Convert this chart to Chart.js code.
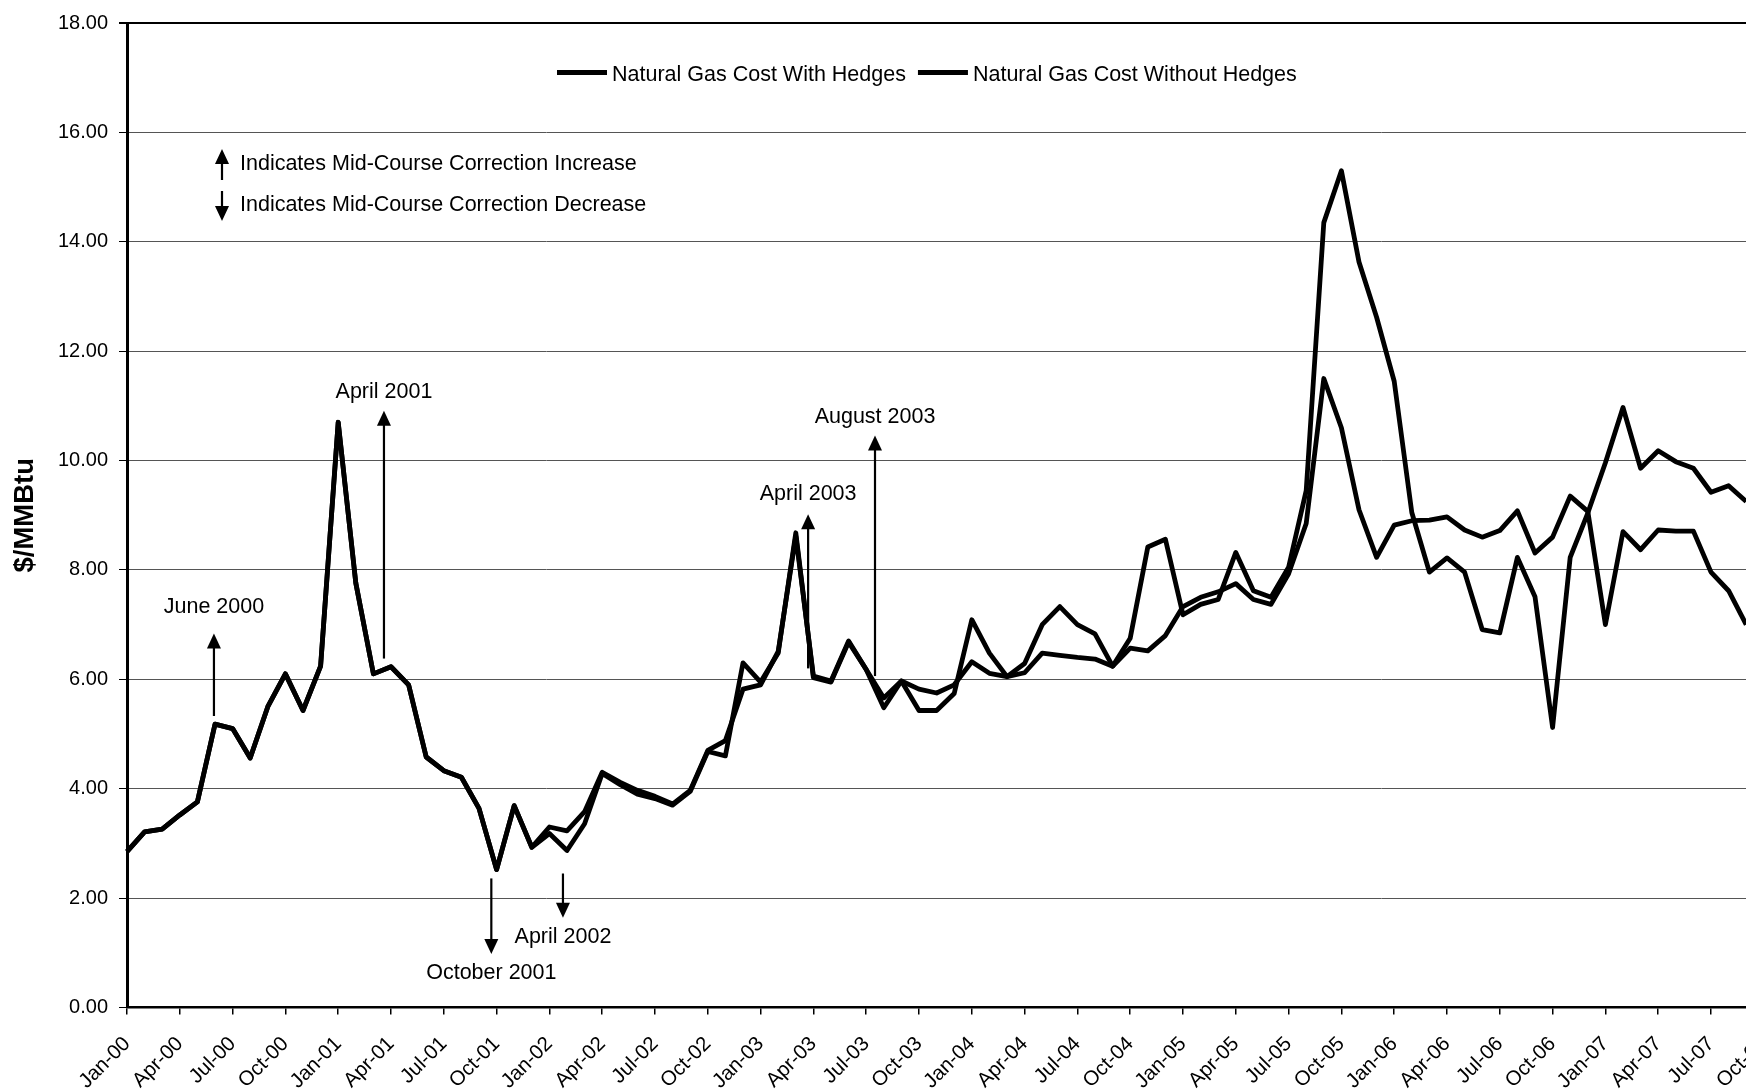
<!DOCTYPE html>
<html><head><meta charset="utf-8">
<script src="https://cdn.jsdelivr.net/npm/chart.js@4.4.1/dist/chart.umd.min.js"></script>
<style>html,body{margin:0;padding:0;background:#fff;overflow:hidden;width:1746px;height:1091px}canvas{display:block}</style>
</head><body>
<canvas id="c" width="1844" height="1091"></canvas>
<script>
// ---- categories ----
const monthAbbr = ['Jan','Feb','Mar','Apr','May','Jun','Jul','Aug','Sep','Oct','Nov','Dec'];
const yearCodes = ['00','01','02','03','04','05','06','07'];
const months = [];
yearCodes.forEach(y => monthAbbr.forEach(m => months.push(m + '-' + y)));

// ---- series ($/MMBtu), Jan-00 .. Dec-07 (last months beyond the visible edge left empty) ----
const seriesNames = ['Natural Gas Cost With Hedges', 'Natural Gas Cost Without Hedges'];
const costWithHedges = [
  2.85, 3.21, 3.26, 3.52, 3.76, 5.18, 5.10, 4.56, 5.50, 6.10, 5.43, 6.24,
  10.70, 7.76, 6.10, 6.23, 5.90, 4.58, 4.33, 4.21, 3.64, 2.52, 3.69, 2.93,
  3.30, 3.23, 3.58, 4.30, 4.12, 3.97, 3.86, 3.72, 3.97, 4.70, 4.88, 5.82,
  5.90, 6.51, 8.62, 6.06, 5.97, 6.70, 6.18, 5.66, 5.97, 5.82, 5.75, 5.90,
  6.32, 6.11, 6.05, 6.12, 6.48, 6.44, 6.40, 6.37, 6.24, 6.57, 6.52, 6.80,
  7.33, 7.50, 7.60, 7.75, 7.46, 7.37, 7.93, 8.85, 11.50, 10.60, 9.10, 8.23,
  8.82, 8.90, 8.91, 8.97, 8.73, 8.60, 8.72, 9.08, 8.31, 8.60, 9.35, 9.07,
  7.00, 8.70, 8.37, 8.73, 8.71, 8.71, 7.96, 7.62, 7.00, null, null, null
];
const costWithoutHedges = [
  2.85, 3.21, 3.26, 3.52, 3.76, 5.18, 5.10, 4.56, 5.50, 6.10, 5.43, 6.24,
  10.70, 7.76, 6.10, 6.23, 5.90, 4.58, 4.33, 4.21, 3.64, 2.52, 3.69, 2.93,
  3.18, 2.87, 3.36, 4.28, 4.08, 3.90, 3.82, 3.70, 3.95, 4.68, 4.60, 6.30,
  5.95, 6.48, 8.68, 6.03, 5.95, 6.68, 6.18, 5.48, 5.97, 5.43, 5.43, 5.74,
  7.09, 6.48, 6.05, 6.29, 7.00, 7.33, 7.00, 6.83, 6.24, 6.75, 8.42, 8.56,
  7.18, 7.37, 7.46, 8.32, 7.62, 7.50, 8.05, 9.45, 14.35, 15.30, 13.63, 12.62,
  11.45, 9.05, 7.96, 8.22, 7.96, 6.91, 6.85, 8.23, 7.51, 5.12, 8.23, 9.04,
  9.96, 10.97, 9.86, 10.18, 9.98, 9.86, 9.42, 9.54, 9.25, null, null, null
];

// ---- mid-course correction markers (month index position, values in $/MMBtu) ----
const markerLabels   = ['June 2000', 'April 2001', 'October 2001', 'April 2002', 'April 2003', 'August 2003'];
const markerMonthPos = [4.94, 14.6, 20.7, 24.77, 38.7, 42.5];
const markerTail     = [5.33, 6.38, 2.36, 2.45, 6.2, 6.06];
const markerTip      = [6.84, 10.91, 0.98, 1.64, 9.02, 10.46];
const markerLabelAt  = [7.32, 11.25, 0.63, 1.28, 9.38, 10.79];
const keyTexts = ['Indicates Mid-Course Correction Increase', 'Indicates Mid-Course Correction Decrease'];

const FONT_FAMILY = '"Liberation Sans", Arial, Helvetica, sans-serif';
const TEXT_FONT = '21.5px ' + FONT_FAMILY;
const LINE_W = 4.8;

function drawArrow(ctx, x, yTail, yTip, hl, hw, lw) {
  const dir = Math.sign(yTip - yTail);
  ctx.lineWidth = lw;
  ctx.beginPath();
  ctx.moveTo(x, yTail);
  ctx.lineTo(x, yTip - dir * hl * 0.8);
  ctx.stroke();
  ctx.beginPath();
  ctx.moveTo(x, yTip);
  ctx.lineTo(x - hw, yTip - dir * hl);
  ctx.lineTo(x + hw, yTip - dir * hl);
  ctx.closePath();
  ctx.fill();
}

const overlay = {
  id: 'overlay',
  afterDatasetsDraw(chart) {
    const { ctx, chartArea, scales: { x, y } } = chart;
    ctx.save();
    ctx.fillStyle = '#000';
    ctx.strokeStyle = '#000';
    ctx.lineCap = 'butt';
    ctx.font = TEXT_FONT;
    ctx.textAlign = 'center';
    ctx.textBaseline = 'middle';
    markerLabels.forEach((lab, i) => {
      const px = x.getPixelForValue(markerMonthPos[i]);
      drawArrow(ctx, px, y.getPixelForValue(markerTail[i]), y.getPixelForValue(markerTip[i]), 15, 7, 2.2);
      ctx.fillText(lab, px, y.getPixelForValue(markerLabelAt[i]));
    });
    // key
    const kx = chartArea.left + 95, tx = chartArea.left + 113;
    drawArrow(ctx, kx, chartArea.top + 157, chartArea.top + 126, 15, 7, 2.2);
    drawArrow(ctx, kx, chartArea.top + 168, chartArea.top + 198, 15, 7, 2.2);
    ctx.textAlign = 'left';
    ctx.fillText(keyTexts[0], tx, chartArea.top + 141);
    ctx.fillText(keyTexts[1], tx, chartArea.top + 182);
    // legend
    let lx = chartArea.left + 430;
    const ly = chartArea.top + 49.5;
    chart.data.datasets.forEach((ds) => {
      ctx.lineWidth = ds.borderWidth;
      ctx.strokeStyle = ds.borderColor;
      ctx.beginPath();
      ctx.moveTo(lx, ly);
      ctx.lineTo(lx + 50, ly);
      ctx.stroke();
      ctx.fillText(ds.label, lx + 55, ly + 3);
      lx += 55 + ctx.measureText(ds.label).width + 12;
    });
    ctx.restore();
  }
};

new Chart(document.getElementById('c'), {
  type: 'line',
  data: {
    labels: months,
    datasets: [
      { label: seriesNames[0], data: costWithHedges, borderColor: '#000', backgroundColor: '#000',
        borderWidth: LINE_W, borderJoinStyle: 'round', pointRadius: 0, tension: 0, fill: false },
      { label: seriesNames[1], data: costWithoutHedges, borderColor: '#000', backgroundColor: '#000',
        borderWidth: LINE_W, borderJoinStyle: 'round', pointRadius: 0, tension: 0, fill: false }
    ]
  },
  options: {
    responsive: false,
    animation: false,
    events: [],
    layout: { padding: { left: 0, top: 18, right: 45, bottom: 0 } },
    plugins: { legend: { display: false }, tooltip: { enabled: false }, title: { display: false } },
    scales: {
      x: {
        type: 'category',
        offset: false,
        afterFit: s => { s.height = 83.5; },
        border: { display: true, color: '#000', width: 2.5 },
        grid: {
          drawOnChartArea: false, drawTicks: true, tickLength: 7, lineWidth: 1.5,
          color: c => (c.index % 3 === 0 ? '#000' : 'rgba(0,0,0,0)'),
          tickColor: c => (c.index % 3 === 0 ? '#000' : 'rgba(0,0,0,0)')
        },
        ticks: {
          autoSkip: false, maxRotation: 45, minRotation: 45, padding: 17.5,
          color: '#000', font: { family: FONT_FAMILY, size: 20.5 },
          callback: (v, i) => (i % 3 === 0 ? months[i] : '')
        }
      },
      y: {
        min: 0, max: 18,
        afterFit: s => { s.width = 127; },
        border: { display: true, color: '#000', width: 3 },
        grid: {
          color: c => (c.tick && c.tick.value === 18 ? '#000' : '#555'),
          lineWidth: c => (c.tick && c.tick.value === 18 ? 2 : 1),
          tickColor: '#000', tickLength: 8, drawTicks: true
        },
        ticks: {
          stepSize: 2, padding: 11, color: '#000',
          font: { family: FONT_FAMILY, size: 20 },
          callback: v => Number(v).toFixed(2)
        },
        title: {
          display: true, text: '$/MMBtu', color: '#000',
          font: { family: FONT_FAMILY, size: 27.5, weight: 'bold' },
          padding: { top: 9, bottom: 0 }
        }
      }
    }
  },
  plugins: [overlay]
});
</script>
</body></html>
